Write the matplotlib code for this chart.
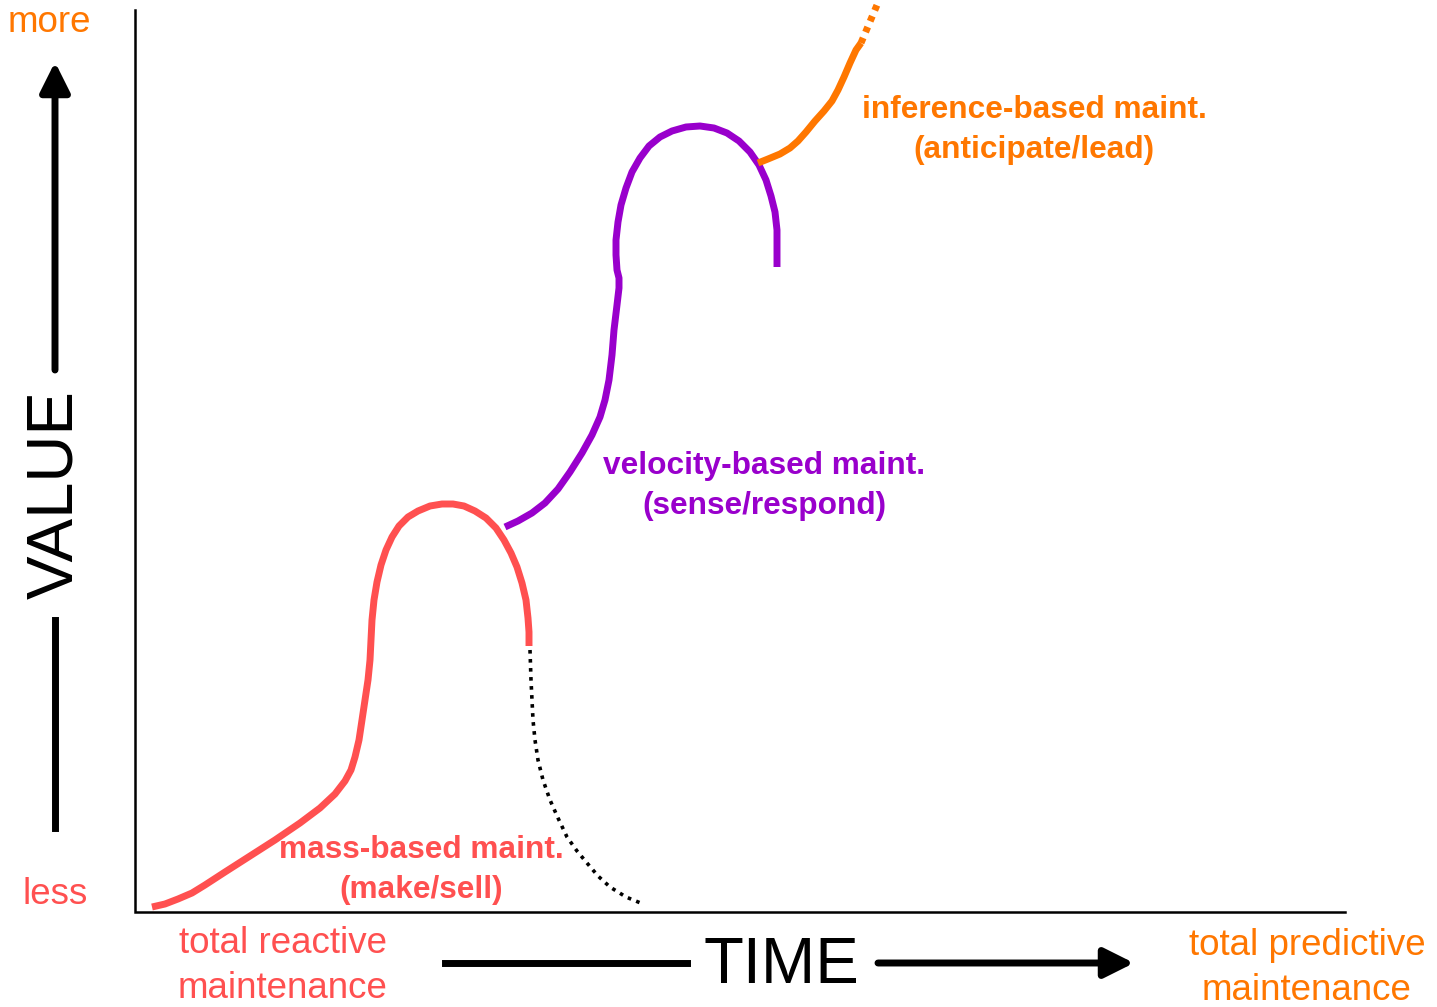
import matplotlib.pyplot as plt
from matplotlib.patches import FancyArrowPatch

RED = "#ff5050"
PURPLE = "#9900cc"
ORANGE = "#ff7700"

# curves, traced in picture pixels (x right, y down)
mass_x = [152, 165, 178, 192, 205, 225, 250, 275, 300, 320, 335, 345, 351, 355,
          359, 362, 365, 368, 370, 371, 372, 374, 377, 381, 386, 392, 399, 408,
          418, 430, 442, 453, 464, 475, 486, 496, 504, 511, 517, 522, 526, 528,
          529, 529]
mass_y = [907, 904, 899, 893, 885, 872, 856, 840, 823, 808, 794, 781, 770, 757,
          740, 720, 700, 680, 660, 640, 620, 600, 582, 565, 550, 537, 526, 517,
          511, 506, 504, 504, 506, 511, 518, 528, 540, 553, 567, 583, 600, 618,
          632, 646]

decline_x = [530, 531, 532, 533, 535, 538, 543, 550, 558, 567, 577, 587, 598, 610,
             626, 643]
decline_y = [650, 680, 700, 720, 740, 760, 780, 800, 818, 837, 851, 863, 876, 887,
             897, 904]

velocity_x = [505, 518, 532, 545, 558, 570, 582, 592, 600, 605, 609, 612, 614, 617,
              619, 619, 617, 616, 616, 618, 621, 626, 632, 640, 649, 660, 672, 686,
              700, 714, 727, 739, 750, 759, 766, 771, 775, 777, 777, 777]
velocity_y = [527, 521, 513, 503, 489, 472, 453, 435, 417, 400, 380, 355, 330, 305,
              288, 278, 270, 255, 240, 222, 205, 188, 172, 158, 146, 137, 131, 127,
              126, 128, 133, 141, 152, 165, 180, 196, 212, 230, 250, 267]

inference_x = [758, 768, 780, 790, 798, 806, 815, 824, 832, 838, 844, 850, 856, 861]
inference_y = [163, 159, 154, 148, 141, 132, 121, 111, 101, 90, 77, 63, 50, 43]
future_x = [861, 877]
future_y = [43, 5]

labels = [
    ("mass-based maint.\n(make/sell)", 421, 870, RED),
    ("velocity-based maint.\n(sense/respond)", 764, 486, PURPLE),
    ("inference-based maint.\n(anticipate/lead)", 1034, 130, ORANGE),
]
ends = [
    ("more", 49, 22, ORANGE),
    ("less", 55, 895, RED),
    ("total reactive\nmaintenance", 283, 966, RED),
    ("total predictive\nmaintenance", 1307, 968, ORANGE),
]

plt.rcParams["font.family"] = ["Liberation Sans", "DejaVu Sans"]

fig = plt.figure(figsize=(14.37, 10.07), dpi=100)
ax = fig.add_axes([0, 0, 1, 1])
ax.set_xlim(0, 1437)
ax.set_ylim(1007, 0)
ax.axis("off")

# frame (left + bottom)
ax.plot([135, 135, 1345], [10, 912, 912], color="black", lw=1.8, solid_joinstyle="miter")

lw = 5.0
ax.plot(mass_x, mass_y, color=RED, lw=lw, solid_capstyle="butt", solid_joinstyle="round")
ax.plot(decline_x, decline_y, color="black", lw=2.6, ls=(0, (1, 1.5)))
ax.plot(velocity_x, velocity_y, color=PURPLE, lw=lw, solid_capstyle="butt",
        solid_joinstyle="round")
ax.plot(inference_x, inference_y, color=ORANGE, lw=lw, solid_capstyle="butt",
        solid_joinstyle="round")
ax.plot(future_x, future_y, color=ORANGE, lw=lw, ls=(0, (0.8, 0.9)))

for txt, x, y, c in labels:
    ax.text(x, y, txt, color=c, fontsize=22.8, fontweight="bold", ha="center",
            va="center", linespacing=1.4)
for txt, x, y, c in ends:
    ax.text(x, y, txt, color=c, fontsize=26.5, ha="center", va="center",
            linespacing=1.35)

# VALUE axis arrow
ax.plot([55, 55], [828, 620], color="black", lw=5)
ax.add_patch(FancyArrowPatch((55, 370), (55, 62), arrowstyle="-|>", mutation_scale=45,
                             color="black", lw=5, shrinkA=0, shrinkB=0))
ax.text(55, 495, "VALUE", rotation=90, fontsize=47, ha="center", va="center")

# TIME axis arrow
ax.plot([445, 687], [963, 963], color="black", lw=5)
ax.add_patch(FancyArrowPatch((878, 963), (1134, 963), arrowstyle="-|>", mutation_scale=45,
                             color="black", lw=5, shrinkA=0, shrinkB=0))
ax.text(781, 966, "TIME", fontsize=47, ha="center", va="center")

fig.savefig("out.png", dpi=100)
